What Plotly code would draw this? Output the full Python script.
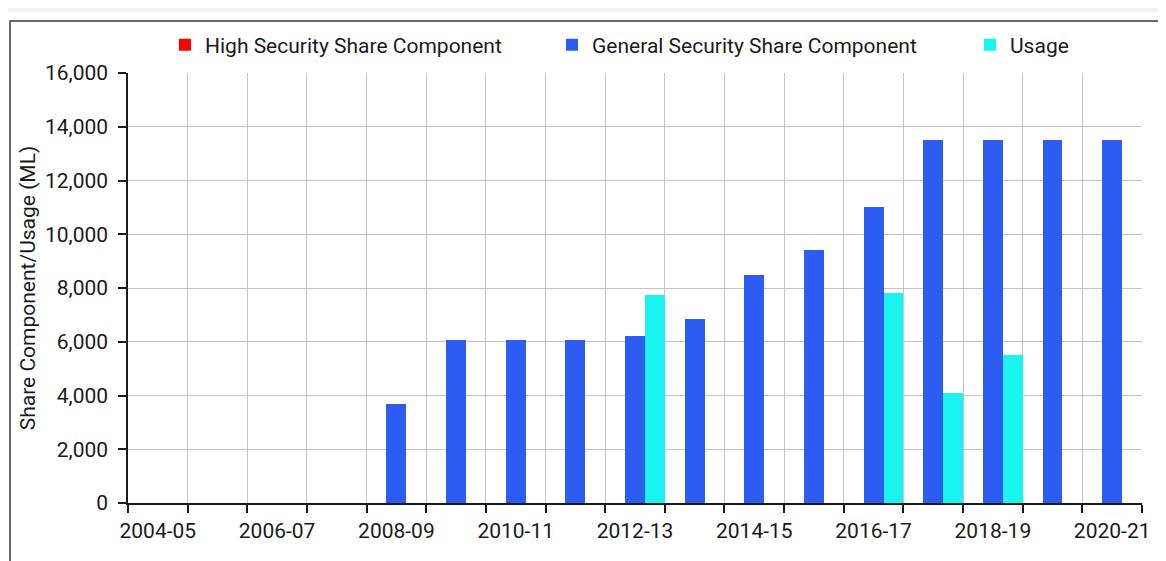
import plotly.graph_objects as go

years = ["2004-05", "2005-06", "2006-07", "2007-08", "2008-09", "2009-10", "2010-11",
         "2011-12", "2012-13", "2013-14", "2014-15", "2015-16", "2016-17", "2017-18",
         "2018-19", "2019-20", "2020-21"]
high_security = [0] * 17
general_security = [0, 0, 0, 0, 3700, 6050, 6050, 6050, 6220, 6850, 8500, 9400,
                    11000, 13500, 13500, 13500, 13500]
usage = [0, 0, 0, 0, 0, 0, 0, 0, 7740, 0, 0, 0, 7820, 4100, 5500, 0, 0]
tick_labels = [y if i % 2 == 0 else "" for i, y in enumerate(years)]
y_ticks = list(range(0, 16001, 2000))

FONT = "Roboto, 'Open Sans', sans-serif"
FS = 21

fig = go.Figure()
fig.add_trace(go.Bar(x=years, y=high_security, name="High Security Share Component",
                     marker=dict(color="#ff0000", line=dict(width=0)),
                     legend="legend", showlegend=True))
fig.add_trace(go.Bar(x=years, y=general_security, name="General Security Share Component",
                     marker=dict(color="#2d5cf2", line=dict(width=0)),
                     legend="legend2", showlegend=True))
fig.add_trace(go.Bar(x=years, y=usage, name="Usage",
                     marker=dict(color="#1af4f0", line=dict(width=0)),
                     legend="legend3", showlegend=True))

# page body has an 8px margin: figure coordinates = window coordinates - 8
OFF = 8
W, H = 1166, 561
PL, PR, PT, PB = 128, 1142, 73, 503  # plot area in window pixels
L, T = PL - OFF, PT - OFF
R, B = W - (PR - OFF), H - (PB - OFF)
pw, ph = PR - PL, PB - PT

def px(x):  # window x pixel -> paper
    return (x - PL) / pw

def py(y):  # window y pixel -> paper
    return (PB - y) / ph

leg_common = dict(orientation="h", yanchor="middle", xanchor="left",
                  font=dict(family=FONT, size=FS, color="#1a1a1a"),
                  bgcolor="rgba(0,0,0,0)", borderwidth=0)

fig.update_layout(
    width=W, height=H,
    margin=dict(l=L, r=R, t=T, b=B),
    paper_bgcolor="white", plot_bgcolor="white",
    barmode="group", bargap=0, bargroupgap=0,
    font=dict(family=FONT, size=FS, color="#1a1a1a"),
    legend=dict(x=px(165), y=py(45), **leg_common),
    legend2=dict(x=px(552), y=py(45), **leg_common),
    legend3=dict(x=px(970), y=py(45), **leg_common),
    xaxis=dict(
        type="category", tickson="boundaries",
        tickvals=years, ticktext=tick_labels, tickangle=0,
        ticks="outside", ticklen=8, tickcolor="#1a1a1a", tickwidth=1.5,
        showline=True, linecolor="#1a1a1a", linewidth=1.5,
        showgrid=True, gridcolor="#c4c4c4", gridwidth=1,
        automargin=False, ticklabelstandoff=8,
        tickfont=dict(family=FONT, size=FS, color="#1a1a1a"),
    ),
    yaxis=dict(
        range=[0, 16000], tickvals=y_ticks, tickformat=",",
        ticks="outside", ticklen=8, tickcolor="#1a1a1a", tickwidth=1.5,
        showline=True, linecolor="#1a1a1a", linewidth=1.5,
        showgrid=True, gridcolor="#c4c4c4", gridwidth=1,
        zeroline=False, automargin=False, ticklabelstandoff=6,
        tickfont=dict(family=FONT, size=FS, color="#1a1a1a"),
        title=dict(text="Share Component/Usage (ML)", standoff=4,
                   font=dict(family=FONT, size=FS, color="#1a1a1a")),
    ),
    shapes=[
        dict(type="rect", xref="paper", yref="paper",
             x0=px(OFF), x1=px(W), y0=py(OFF), y1=py(12),
             fillcolor="#f1f1f1", line=dict(width=0), layer="below"),
        dict(type="rect", xref="paper", yref="paper",
             x0=px(10), x1=px(1162), y0=py(590), y1=py(21),
             line=dict(color="#3a3a3a", width=1.5), fillcolor="rgba(0,0,0,0)"),
    ],
)

fig.write_html("out.html")
